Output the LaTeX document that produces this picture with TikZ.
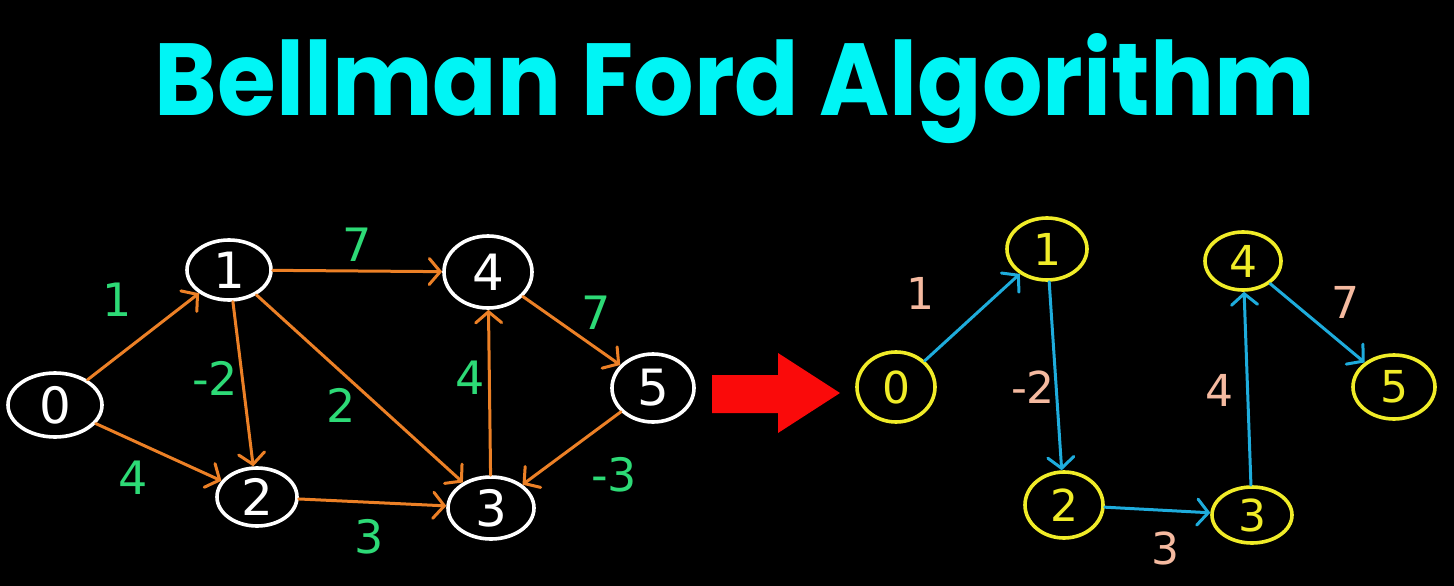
\documentclass[tikz,border=0pt]{standalone}
\usepackage{fontspec}
\setmainfont{DejaVu Sans}
\newfontfamily\titlefont{Poppins}
\usetikzlibrary{shapes.geometric,arrows.meta}
\definecolor{titlecyan}{RGB}{0,245,245}
\definecolor{edgeorange}{RGB}{236,128,38}
\definecolor{labgreen}{RGB}{45,218,118}
\definecolor{edgeblue}{RGB}{30,172,220}
\definecolor{nodeyellow}{RGB}{240,236,40}
\definecolor{labpeach}{RGB}{245,186,160}
\definecolor{arrowred}{RGB}{250,10,10}
\begin{document}
\begin{tikzpicture}[x=1pt,y=-1pt,
  wnode/.style={ellipse, draw=white, line width=3.6pt, text=white, inner sep=0pt,
    font=\fontsize{50}{50}\selectfont},
  ynode/.style={ellipse, draw=nodeyellow, line width=3.6pt, text=nodeyellow, inner sep=0pt,
    font=\fontsize{44}{44}\selectfont},
  oedge/.style={draw=edgeorange, line width=3pt, line cap=round,
    -{Straight Barb[length=11pt,width=26pt,line cap=round]}},
  bedge/.style={draw=edgeblue, line width=3pt, line cap=round,
    -{Straight Barb[length=11pt,width=26pt,line cap=round]}},
  glab/.style={text=labgreen, inner sep=0pt, font=\fontsize{46}{46}\selectfont},
  plab/.style={text=labpeach, inner sep=0pt, font=\fontsize{44}{44}\selectfont}
]
\fill[black] (0,0) rectangle (1454,586);
\useasboundingbox (0,0) rectangle (1454,586);

% title
\node[anchor=base, text=titlecyan, inner sep=0pt] (title) at (735,116)
  {\resizebox{1160pt}{82pt}{\titlefont\bfseries Bellman Ford Algorithm}};

% left graph
\node[wnode, minimum width=94pt, minimum height=64pt] (a0) at (55,405) {0};
\node[wnode, minimum width=84pt, minimum height=60pt] (a1) at (229,270) {1};
\node[wnode, minimum width=80pt, minimum height=58pt] (a2) at (257,497) {2};
\node[wnode, minimum width=88pt, minimum height=72pt] (a4) at (488,272) {4};
\node[wnode, minimum width=82pt, minimum height=68pt] (a5) at (653,388) {5};
\node[wnode, minimum width=86pt, minimum height=62pt] (a3) at (491,508) {3};

\draw[oedge] (a0) -- (a1);
\draw[oedge] (a0) -- (a2);
\draw[oedge] (a1) -- (a2);
\draw[oedge] (a1) -- (a3);
\draw[oedge] (a1) -- (a4);
\draw[oedge] (a2) -- (a3);
\draw[oedge] (a3) -- (a4);
\draw[oedge] (a4) -- (a5);
\draw[oedge] (a5) -- (a3);

\node[glab] (l01) at (117,300) {1};
\node[glab] (l12) at (215,378) {-2};
\node[glab] (l02) at (133,478) {4};
\node[glab] (l13) at (341,405) {2};
\node[glab] (l14) at (357,245) {7};
\node[glab] (l34) at (470,378) {4};
\node[glab] (l45) at (596,313) {7};
\node[glab] (l53) at (614,475) {-3};
\node[glab] (l23) at (369,537) {3};

% red arrow
\fill[arrowred] (712,375) -- (778,375) -- (778,353) -- (840,393) -- (778,433) -- (778,413) -- (712,413) -- cycle;

% right graph
\node[ynode, minimum width=78pt, minimum height=70pt] (b0) at (896,387) {0};
\node[ynode, minimum width=80pt, minimum height=62pt] (b1) at (1047,249) {1};
\node[ynode, minimum width=78pt, minimum height=66pt] (b2) at (1064,505) {2};
\node[ynode, minimum width=76pt, minimum height=58pt] (b4) at (1243,261) {4};
\node[ynode, minimum width=82pt, minimum height=64pt] (b5) at (1394,387) {5};
\node[ynode, minimum width=80pt, minimum height=56pt] (b3) at (1252,515) {3};

\draw[bedge] (b0) -- (b1);
\draw[bedge] (b1) -- (b2);
\draw[bedge] (b2) -- (b3);
\draw[bedge] (b3) -- (b4);
\draw[bedge] (b4) -- (b5);

\node[plab] (m01) at (920,293) {1};
\node[plab] (m12) at (1033,387) {-2};
\node[plab] (m23) at (1165,548) {3};
\node[plab] (m34) at (1219,390) {4};
\node[plab] (m45) at (1345,302) {7};
\end{tikzpicture}
\end{document}
